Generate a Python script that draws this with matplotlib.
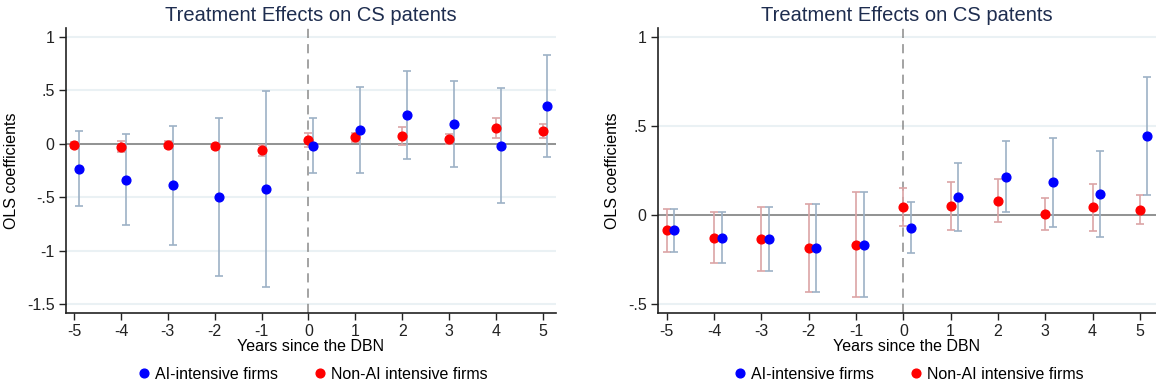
import matplotlib.pyplot as plt
import numpy as np

plt.rcParams['font.family'] = ['Liberation Sans', 'DejaVu Sans']

years = [-5, -4, -3, -2, -1, 0, 1, 2, 3, 4, 5]

# left panel
left_ai = [-0.233, -0.34, -0.39, -0.50, -0.42, -0.02, 0.128, 0.268, 0.187, -0.018, 0.352]
left_ai_lo = [-0.585, -0.763, -0.95, -1.24, -1.34, -0.274, -0.274, -0.14, -0.218, -0.557, -0.121]
left_ai_hi = [0.12, 0.087, 0.168, 0.243, 0.49, 0.237, 0.53, 0.68, 0.59, 0.523, 0.83]
left_non = [-0.012, -0.03, -0.01, -0.025, -0.062, 0.035, 0.06, 0.072, 0.04, 0.143, 0.118]
left_non_lo = [-0.04, -0.08, -0.04, -0.05, -0.115, -0.035, 0.02, -0.01, 0.0, 0.053, 0.05]
left_non_hi = [0.02, 0.025, 0.025, 0.0, -0.01, 0.10, 0.10, 0.159, 0.09, 0.237, 0.187]

# right panel
right_ai = [-0.084, -0.129, -0.135, -0.187, -0.169, -0.073, 0.101, 0.213, 0.184, 0.12, 0.442]
right_ai_lo = [-0.206, -0.273, -0.315, -0.431, -0.459, -0.217, -0.088, 0.015, -0.066, -0.122, 0.112]
right_ai_hi = [0.035, 0.015, 0.047, 0.06, 0.127, 0.071, 0.294, 0.414, 0.434, 0.361, 0.773]
right_non = [-0.084, -0.129, -0.135, -0.187, -0.169, 0.043, 0.049, 0.08, 0.006, 0.043, 0.028]
right_non_lo = [-0.206, -0.273, -0.315, -0.431, -0.459, -0.06, -0.086, -0.041, -0.084, -0.088, -0.052]
right_non_hi = [0.035, 0.015, 0.047, 0.06, 0.127, 0.15, 0.187, 0.204, 0.097, 0.176, 0.11]

left_yticks = [1, 0.5, 0, -0.5, -1, -1.5]
left_ylabels = ['1', '.5', '0', '-.5', '-1', '-1.5']
right_yticks = [1, 0.5, 0, -0.5]
right_ylabels = ['1', '.5', '0', '-.5']

title_color = '#1e2d4f'
ai_bar = '#9db1c6'
non_bar = '#dba4a6'


def draw_panel(ax, ai, ai_lo, ai_hi, non, non_lo, non_hi, offset, yticks, ylabels, ylim, xlim):
    x = np.array(years, dtype=float)
    ai = np.array(ai)
    non = np.array(non)
    for yt in yticks:
        ax.axhline(yt, color='#eaf1f4', lw=1.5, zorder=0)
    ax.axhline(0, color='#8a8a8a', lw=1.3, zorder=1)
    ax.axvline(0, color='#8a8a8a', lw=1.1, ls=(0, (6, 4)), zorder=1)

    ax.errorbar(x, non, yerr=[non - np.array(non_lo), np.array(non_hi) - non],
                fmt='none', ecolor=non_bar, elinewidth=1.2, capsize=3, capthick=1.2, zorder=2)
    ax.errorbar(x + offset, ai, yerr=[ai - np.array(ai_lo), np.array(ai_hi) - ai],
                fmt='none', ecolor=ai_bar, elinewidth=1.2, capsize=3, capthick=1.2, zorder=2)
    ax.plot(x, non, 'o', color='#ff0000', ms=6.3, zorder=3, label='Non-AI intensive firms')
    ax.plot(x + offset, ai, 'o', color='#0000ff', ms=6.3, zorder=4, label='AI-intensive firms')

    ax.set_xlim(*xlim)
    ax.set_ylim(*ylim)
    ax.set_xticks(years)
    ax.set_xticklabels([str(v) for v in years])
    ax.set_yticks(yticks)
    ax.set_yticklabels(ylabels)
    for s in ['top', 'right']:
        ax.spines[s].set_visible(False)
    for s in ['left', 'bottom']:
        ax.spines[s].set_color('#222222')
        ax.spines[s].set_linewidth(1.2)
    ax.tick_params(direction='out', length=5, width=1, colors='#222222', labelsize=11.5, pad=3)
    ax.set_title('Treatment Effects on CS patents', fontsize=14.5, color=title_color, pad=5)
    ax.set_xlabel('Years since the DBN', fontsize=11.5, labelpad=0)
    ax.set_ylabel('OLS coefficients', fontsize=11.5, labelpad=6)

    h, l = ax.get_legend_handles_labels()
    ax.legend([h[1], h[0]], [l[1], l[0]], loc='center', bbox_to_anchor=(0.5, -0.215),
              ncol=2, frameon=False, fontsize=11.5, handletextpad=0.1, columnspacing=2.0,
              handlelength=1.2, borderpad=0)


fig = plt.figure(figsize=(11.56, 3.86), dpi=100)
ax1 = fig.add_axes([0.0568, 0.189, 0.4241, 0.738])
ax2 = fig.add_axes([0.569, 0.189, 0.431, 0.738])

draw_panel(ax1, left_ai, left_ai_lo, left_ai_hi, left_non, left_non_lo, left_non_hi,
           0.1, left_yticks, left_ylabels, (-1.584, 1.08), (-5.18, 5.28))
draw_panel(ax2, right_ai, right_ai_lo, right_ai_hi, right_non, right_non_lo, right_non_hi,
           0.16, right_yticks, right_ylabels, (-0.552, 1.05), (-5.19, 5.34))

fig.savefig('out.png', dpi=100)
